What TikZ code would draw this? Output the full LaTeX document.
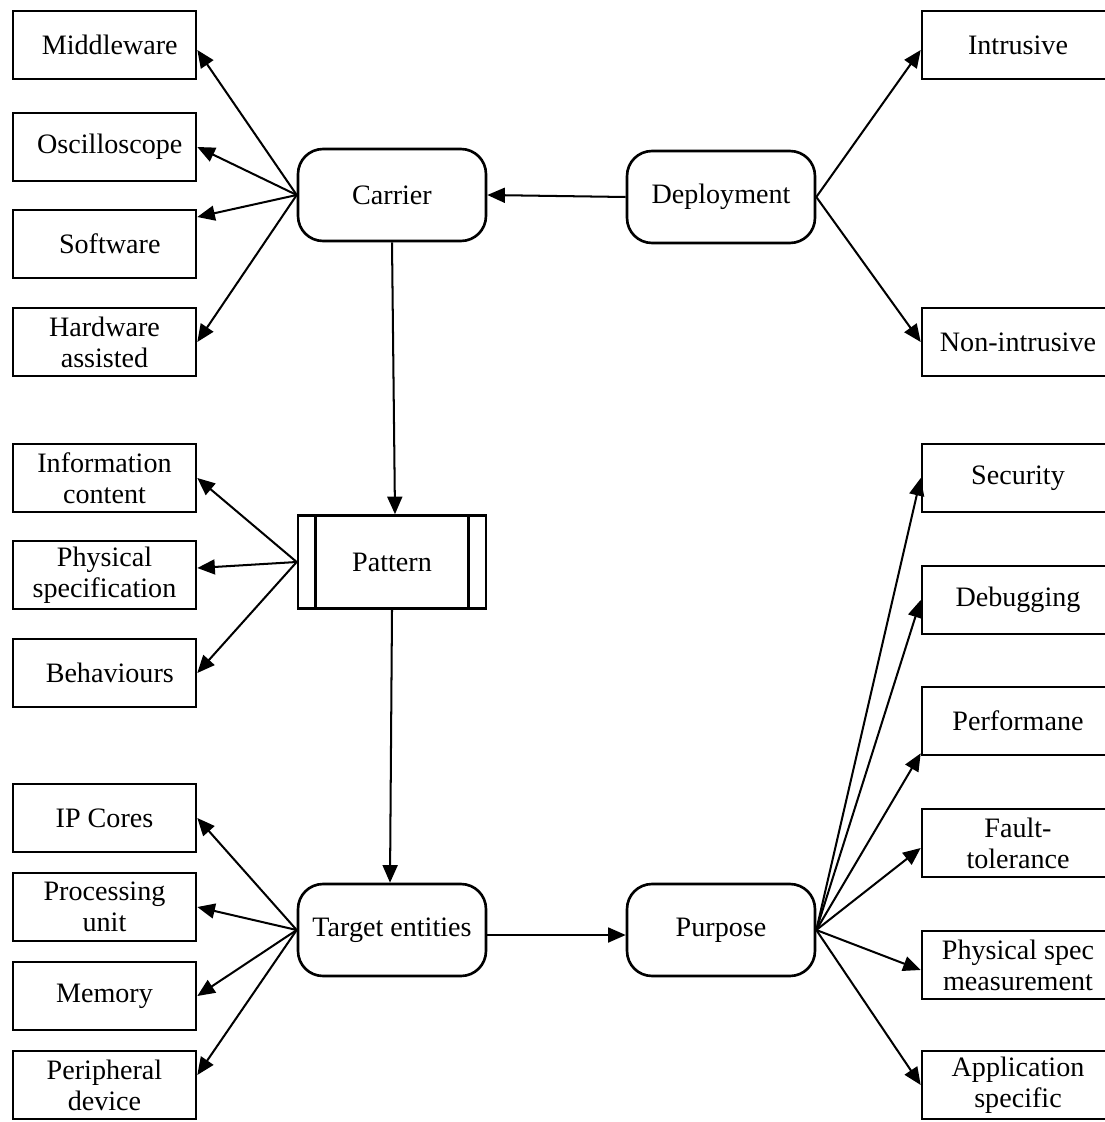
\documentclass[tikz,border=0pt]{standalone}
\usepackage{fontspec}
\setmainfont{Liberation Serif}
\usetikzlibrary{arrows.meta,positioning}
\begin{document}
\begin{tikzpicture}[x=0.02cm,y=-0.02cm,font=\fontsize{16}{17.6}\selectfont,
  leaf/.style={rectangle,draw,line width=1.5pt,minimum width=3.66cm,minimum height=1.36cm,align=center,inner sep=1pt},
  rleaf/.style={leaf,minimum width=3.84cm},
  hub/.style={rectangle,rounded corners=0.5cm,draw,line width=1.5pt,minimum width=3.76cm,minimum height=1.84cm,align=center},
  proc/.style={rectangle,draw,line width=1.5pt,minimum width=3.76cm,minimum height=1.86cm},
  arr/.style={-{Triangle[length=10pt,width=8.5pt]},line width=1.15pt}]
\clip (0,0) rectangle (1105,1122);
% centre column
\node[hub] (car) at (392,195) {Carrier};
\node[hub] (dep) at (721,197) {Deployment};
\node[proc] (pat) at (392,562) {Pattern};
\draw[line width=1.5pt] ([xshift=0.38cm]pat.north west)--([xshift=0.38cm]pat.south west);
\draw[line width=1.5pt] ([xshift=-0.38cm]pat.north east)--([xshift=-0.38cm]pat.south east);
\node[hub] (tgt) at (392,930) {Target entities};
\node[hub] (pur) at (721,930) {Purpose};
% left column
\node[leaf] (mid) at (104.5,45) {\hspace{6pt}Middleware};
\node[leaf] (osc) at (104.5,147) {\hspace{6pt}Oscilloscope};
\node[leaf] (sw) at (104.5,244) {\hspace{6pt}Software};
\node[leaf] (hw) at (104.5,342) {Hardware\\assisted};
\node[leaf] (info) at (104.5,478) {Information\\content};
\node[leaf] (phys) at (104.5,575) {Physical\\specification};
\node[leaf] (beh) at (104.5,673) {\hspace{6pt}Behaviours};
\node[leaf] (ip) at (104.5,818) {IP Cores};
\node[leaf] (pu) at (104.5,907) {Processing\\unit};
\node[leaf] (mem) at (104.5,996) {Memory};
\node[leaf] (per) at (104.5,1085) {Peripheral\\device};
% right column
\node[rleaf] (intr) at (1018,45) {Intrusive};
\node[rleaf] (nonint) at (1018,342) {Non-intrusive};
\node[rleaf] (sec) at (1018,478) {Security};
\node[rleaf] (dbg) at (1018,600) {Debugging};
\node[rleaf] (perf) at (1018,721) {Performane};
\node[rleaf] (ft) at (1018,843) {Fault-\\tolerance};
\node[rleaf] (psm) at (1018,965) {Physical spec\\measurement};
\node[rleaf] (app) at (1018,1085) {Application\\specific};
% connectors
\draw[arr] (car.west)--([yshift=-0.1cm]mid.east);
\draw[arr] (car.west)--(osc.east);
\draw[arr] (car.west)--([yshift=0.54cm]sw.east);
\draw[arr] (car.west)--(hw.east);
\draw[arr] (dep.west)--(car.east);
\draw[arr] (dep.east)--([yshift=-0.1cm]intr.west);
\draw[arr] (dep.east)--(nonint.west);
\draw[arr] (car.south)--([xshift=0.06cm]pat.north);
\draw[arr] (pat.west)--(info.east);
\draw[arr] (pat.west)--([yshift=0.14cm]phys.east);
\draw[arr] (pat.west)--(beh.east);
\draw[arr] (pat.south)--([xshift=-0.04cm]tgt.north);
\draw[arr] (tgt.west)--(ip.east);
\draw[arr] (tgt.west)--(pu.east);
\draw[arr] (tgt.west)--(mem.east);
\draw[arr] (tgt.west)--([yshift=0.2cm]per.east);
\draw[arr] ([yshift=-0.1cm]tgt.east)--([yshift=-0.1cm]pur.west);
\draw[arr] (pur.east)--(sec.west);
\draw[arr] (pur.east)--(dbg.west);
\draw[arr] (pur.east)--([yshift=0.06cm]perf.south west);
\draw[arr] (pur.east)--([yshift=-0.1cm]ft.west);
\draw[arr] (pur.east)--([yshift=-0.1cm]psm.west);
\draw[arr] (pur.east)--(app.west);
\end{tikzpicture}
\end{document}
